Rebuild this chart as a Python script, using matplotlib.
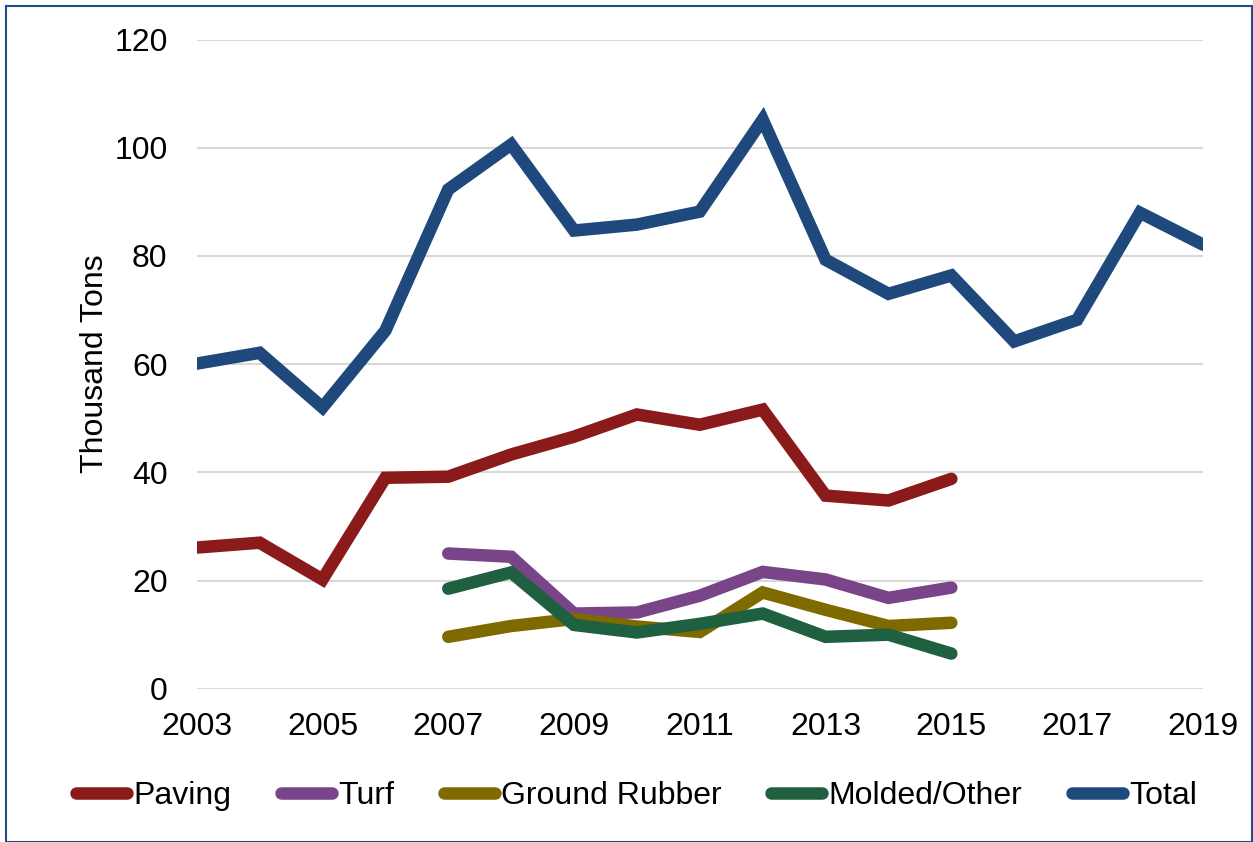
import matplotlib.pyplot as plt
from matplotlib.patches import Rectangle

plt.rcParams['font.family'] = ['Liberation Sans', 'DejaVu Sans']

years_all = list(range(2003, 2020))
years_paving = list(range(2003, 2016))
years_sub = list(range(2007, 2016))

total = [60.1, 62.1, 52.0, 66.2, 92.3, 100.6, 84.7, 85.8, 88.2, 105.2, 79.3, 73.0, 76.4, 64.2, 68.2, 88.0, 82.1]
paving = [26.1, 27.0, 20.2, 39.0, 39.2, 43.3, 46.6, 50.7, 48.8, 51.6, 35.7, 34.8, 38.8]
turf = [25.0, 24.4, 13.9, 14.1, 17.2, 21.6, 20.2, 16.8, 18.7]
ground = [9.6, 11.6, 12.9, 11.5, 10.5, 17.8, 14.6, 11.6, 12.2]
molded = [18.5, 21.5, 11.8, 10.4, 12.0, 13.9, 9.6, 10.0, 6.5]

fig = plt.figure(figsize=(12.53, 8.42), dpi=100)
ax = fig.add_axes([0.157, 0.182, 0.803, 0.771])

lw = 9
ax.plot(years_paving, paving, color='#8B1A1A', lw=lw, solid_capstyle='round', solid_joinstyle='miter', label='Paving')
ax.plot(years_sub, turf, color='#7A4488', lw=lw, solid_capstyle='round', solid_joinstyle='miter', label='Turf')
ax.plot(years_sub, ground, color='#7F6A00', lw=lw, solid_capstyle='round', solid_joinstyle='miter', label='Ground Rubber')
ax.plot(years_sub, molded, color='#1F6040', lw=lw, solid_capstyle='round', solid_joinstyle='miter', label='Molded/Other')
ax.plot(years_all, total, color='#1F497D', lw=lw, solid_capstyle='round', solid_joinstyle='miter', label='Total')

ax.set_xlim(2003, 2019)
ax.set_ylim(0, 120)
ax.set_xticks(range(2003, 2020, 2))
ax.set_yticks(range(0, 121, 20))
ax.grid(axis='y', color='#d9d9d9', lw=1.5)
ax.set_axisbelow(True)
for s in ax.spines.values():
    s.set_visible(False)
ax.tick_params(length=0, labelsize=23)
ax.tick_params(axis='x', pad=17)
ax.tick_params(axis='y', pad=21)
ax.set_ylabel('Thousand Tons', fontsize=23)
ax.yaxis.set_label_coords(-0.086, 0.5)

fig.legend(loc='center left', bbox_to_anchor=(0.0603, 0.055), ncol=5, frameon=False,
           fontsize=23, handlelength=1.6, handletextpad=0.2, columnspacing=1.55,
           borderaxespad=0, borderpad=0)

fig.patches.append(Rectangle((0.005, 0.0), 0.994, 0.993, transform=fig.transFigure,
                             fill=False, edgecolor='#1F4E8C', lw=1.5))

fig.savefig('out.png', dpi=100)
